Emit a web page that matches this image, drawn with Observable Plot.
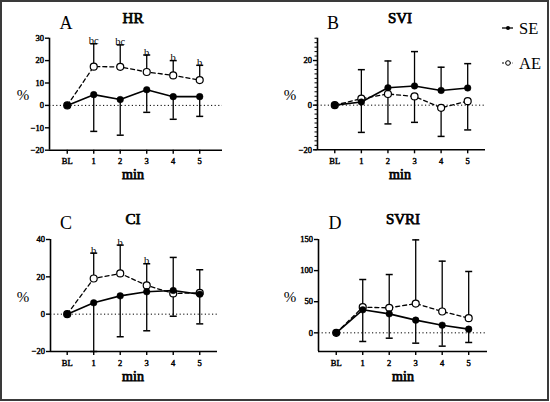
<!DOCTYPE html>
<html><head><meta charset="utf-8">
<script src="https://cdn.jsdelivr.net/npm/d3@7"></script>
<script src="https://cdn.jsdelivr.net/npm/@observablehq/plot@0.6"></script>
<style>
body{margin:0;background:#fff;}
#fig{position:relative;width:550px;height:402px;overflow:hidden;background:#fff;font-family:"Liberation Serif",serif;}
#border{position:absolute;left:0;top:0;width:549px;height:401px;box-sizing:border-box;border:2px solid #3a3a3a;pointer-events:none;}
.lab{position:absolute;transform:translate(-50%,-50%);white-space:nowrap;color:#000;line-height:1;font-family:"Liberation Serif",serif;font-weight:normal;}
.lab.bold{-webkit-text-stroke:0.75px #000;}
.panel{position:absolute;}
.panel text{font-family:"Liberation Serif",serif;font-weight:normal;}
.panel [aria-label$="tick label"] text{stroke:#000;stroke-width:0.45px;paint-order:stroke;}
</style></head><body><div id="fig"></div>
<script>
const categories = ["BL","1","2","3","4","5"];

// A: HR
const hrSE     = [0, 4.8, 2.6, 7.0, 3.9, 3.9];
const hrSEBar  = [null, -11.6, -13.3, -3.1, -6.2, -4.9];
const hrAE     = [0, 17.3, 17.2, 14.9, 13.4, 11.3];
const hrAEBar  = [null, 27.5, 27.0, 22.5, 20.0, 17.9];
const hrSig    = ["", "bc", "bc", "b", "b", "b"];
const hrTicks  = [-20, -10, 0, 10, 20, 30];

// B: SVI
const sviSE    = [0, 1.4, 7.8, 8.6, 6.6, 7.7];
const sviSEBar = [null, 15.9, 19.8, 24.0, 17.0, 18.6];
const sviAE    = [0, 2.9, 5.0, 3.9, -1.2, 1.8];
const sviAEBar = [null, -12.2, -8.4, -7.7, -14.0, -11.1];
const sviSig   = ["", "", "", "", "", ""];
const sviTicks = [-20, 0, 20];

// C: CI
const ciSE     = [0, 6.1, 9.8, 12.0, 12.7, 10.7];
const ciSEBar  = [null, -20, -12.1, -8.9, -1.1, -5.2];
const ciAE     = [0, 19.1, 21.8, 15.4, 11.1, 11.4];
const ciAEBar  = [null, 32.7, 37.0, 27.0, 30.4, 23.8];
const ciSig    = ["", "b", "b", "b", "", ""];
const ciTicks  = [-20, 0, 20, 40];

// D: SVRI
const svriSE    = [0, 37.0, 30.5, 20.4, 12.3, 5.9];
const svriSEBar = [null, -13.9, -8.6, -16.6, -21.4, -15.5];
const svriAE    = [0, 41.2, 40.2, 47.1, 34.3, 23.6];
const svriAEBar = [null, 85.7, 93.7, 149.4, 115.2, 98.6];
const svriSig   = ["", "", "", "", "", ""];
const svriTicks = [0, 50, 100, 150];

const fig = document.getElementById("fig");
const FONT = '"Liberation Serif", serif';

const cap = {draw(ctx, size){ const r = Math.sqrt(size/Math.PI); ctx.moveTo(-r,0); ctx.lineTo(r,0); }};

function label(text, x, y, size, bold){
  const d = document.createElement("div");
  d.className = bold ? "lab bold" : "lab";
  d.textContent = text;
  d.style.left = x + "px"; d.style.top = y + "px";
  d.style.fontSize = size + "px";
  fig.appendChild(d);
}

function panel(o){
  const rows = categories.map((c,i)=>({i, se:o.se[i], ae:o.ae[i], seBar:o.seBar[i], aeBar:o.aeBar[i], sig:o.sig[i]}));
  const seB = rows.filter(d=>d.seBar!=null);
  const aeB = rows.filter(d=>d.aeBar!=null);
  const marks = [
    Plot.ruleY([0], {stroke:"#000", strokeWidth:1, strokeDasharray:"1.2,2.4"}),
    Plot.ruleX(seB, {x:"i", y1:"se", y2:"seBar", stroke:"#000", strokeWidth:1.3}),
    Plot.dot(seB, {x:"i", y:"seBar", symbol:cap, r:3.5, fill:"none", stroke:"#000", strokeWidth:1.5}),
    Plot.ruleX(aeB, {x:"i", y1:"ae", y2:"aeBar", stroke:"#000", strokeWidth:1.3}),
    Plot.dot(aeB, {x:"i", y:"aeBar", symbol:cap, r:3.5, fill:"none", stroke:"#000", strokeWidth:1.5}),
    Plot.line(rows, {x:"i", y:"ae", stroke:"#000", strokeWidth:1.3, strokeDasharray:"4,3"}),
    Plot.line(rows, {x:"i", y:"se", stroke:"#000", strokeWidth:1.6}),
    Plot.dot(rows, {x:"i", y:"ae", r:3.5, fill:"#fff", stroke:"#000", strokeWidth:1.2}),
    Plot.dot(rows, {x:"i", y:"se", r:3.3, fill:"#000", stroke:"#000", strokeWidth:0.5}),
    Plot.text(aeB, {x:"i", y:"aeBar", text:"sig", dy:0.5, lineAnchor:"bottom", fontSize:10.5, fill:"#000", fontFamily:FONT}),
    Plot.ruleX([o.xDomain[0]], {stroke:"#000", strokeWidth:1.6}),
    Plot.ruleY([o.yDomain[0]], {stroke:"#000", strokeWidth:1.6}),
    Plot.axisY({ticks:o.yTicks, tickSize:4, tickPadding:1.5, label:null, strokeWidth:1.4, fontSize:8.5, fontFamily:FONT, fill:"#000"}),
    Plot.axisX({ticks:[0,1,2,3,4,5], tickFormat:i=>categories[i], tickSize:4, tickPadding:4, label:null, strokeWidth:1.4, fontSize:8.5, fontFamily:FONT, fill:"#000"})
  ];
  if (o.yMinor) marks.push(Plot.axisY({ticks:o.yMinor, tickSize:2.5, text:null, label:null, strokeWidth:1}));
  const svg = Plot.plot({
    width:o.w, height:o.h,
    marginLeft:o.m[0], marginRight:o.m[1], marginTop:o.m[2], marginBottom:o.m[3],
    x:{type:"linear", domain:o.xDomain},
    y:{type:"linear", domain:o.yDomain},
    style:{fontFamily:FONT, fontSize:"8px", background:"transparent", color:"#000", overflow:"visible"},
    marks
  });
  svg.classList.add("panel");
  svg.style.left = o.left + "px"; svg.style.top = o.top + "px";
  fig.appendChild(svg);
  label(o.letter, o.lx, o.ly, 18, false);
  label(o.title, o.tx, o.ty, 15, true);
  label("%", o.px, o.py, 15, false);
  label("min", o.tx, o.my, 14, true);
}

panel({left:0, top:0, w:275, h:200, m:[49,53,37.7,50.3], xDomain:[-0.67,5.86], yDomain:[-20,30], yTicks:hrTicks,
  se:hrSE, seBar:hrSEBar, ae:hrAE, aeBar:hrAEBar, sig:hrSig,
  letter:"A", lx:66, ly:23, title:"HR", tx:133, ty:18, px:23, py:95, my:175});

panel({left:275, top:0, w:275, h:200, m:[42,65,37.7,50.7], xDomain:[-0.65,5.67], yDomain:[-20,30], yTicks:sviTicks, yMinor:d3.range(-20,31,2),
  se:sviSE, seBar:sviSEBar, ae:sviAE, aeBar:sviAEBar, sig:sviSig,
  letter:"B", lx:333, ly:23, title:"SVI", tx:400, ty:18, px:290, py:95, my:175});

panel({left:0, top:200, w:275, h:200, m:[50,58,39,49], xDomain:[-0.63,5.67], yDomain:[-20,40], yTicks:ciTicks,
  se:ciSE, seBar:ciSEBar, ae:ciAE, aeBar:ciAEBar, sig:ciSig,
  letter:"C", lx:66, ly:223, title:"CI", tx:133, ty:219, px:23, py:297, my:377});

panel({left:275, top:200, w:275, h:200, m:[43,63,39,49], xDomain:[-0.67,5.71], yDomain:[-30,150], yTicks:svriTicks,
  se:svriSE, seBar:svriSEBar, ae:svriAE, aeBar:svriAEBar, sig:svriSig,
  letter:"D", lx:335, ly:223, title:"SVRI", tx:403, ty:219, px:290, py:297, my:377});

// legend
const leg = document.createElementNS("http://www.w3.org/2000/svg","svg");
leg.setAttribute("width", 60); leg.setAttribute("height", 60);
leg.style.position = "absolute"; leg.style.left = "498px"; leg.style.top = "15px";
leg.innerHTML = `
  <line x1="4" y1="13" x2="15" y2="13" stroke="#000" stroke-width="1.3"/>
  <circle cx="10" cy="13" r="2" fill="#000"/>
  <line x1="4" y1="48" x2="15" y2="48" stroke="#000" stroke-width="1.2" stroke-dasharray="2,1.5"/>
  <circle cx="10" cy="48" r="2.3" fill="#fff" stroke="#000" stroke-width="1"/>`;
fig.appendChild(leg);
const legText = [["SE", 29], ["AE", 64]];
legText.forEach(([t,y])=>{
  const d = document.createElement("div");
  d.textContent = t;
  d.style.cssText = `position:absolute;left:519px;top:${y}px;transform:translateY(-50%);font-size:16.5px;line-height:1;font-family:${FONT};`;
  fig.appendChild(d);
});

const b = document.createElement("div"); b.id = "border"; fig.appendChild(b);
</script></body></html>
